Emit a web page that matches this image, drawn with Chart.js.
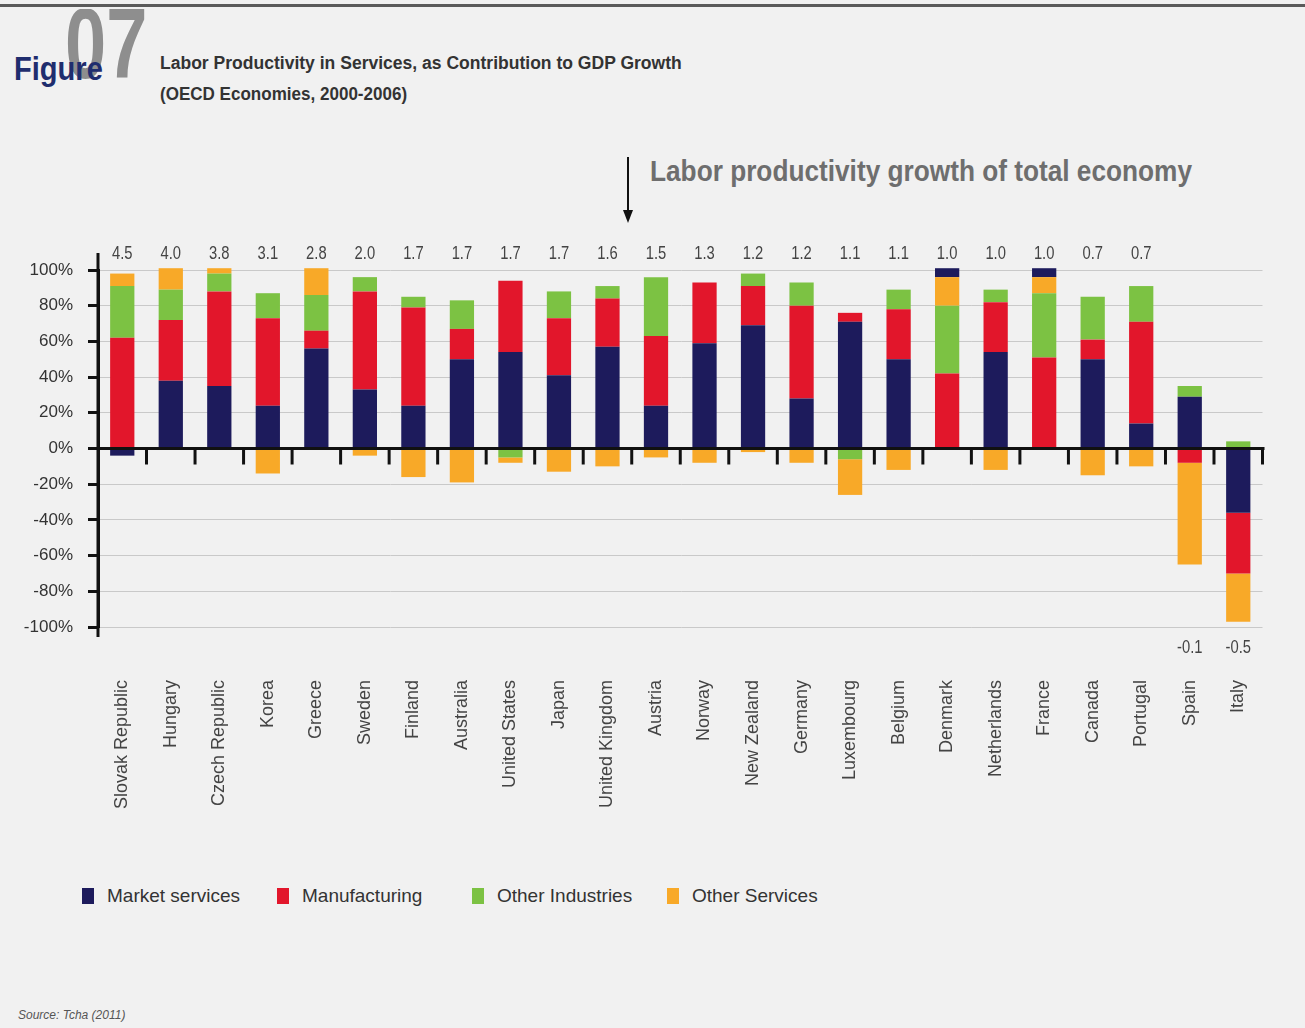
<!DOCTYPE html>
<html>
<head>
<meta charset="utf-8">
<script src="https://cdn.jsdelivr.net/npm/chart.js@4.4.1/dist/chart.umd.min.js"></script>
<style>
  body { margin: 0; background: #f0f0f0; }
  #page { position: relative; width: 1305px; height: 1028px; overflow: hidden; background: #f1f1f1; font-family: "Liberation Sans", Arial, sans-serif; }
  #topline { position: absolute; left: 0; top: 4px; width: 1305px; height: 3px; background: #5a5a5a; }
  #bignum { position: absolute; left: 62px; top: 9px; width: 100px; height: 70px; overflow: hidden; }
  #bignum span { position: absolute; left: 3px; top: -16px; font-size: 100px; font-weight: bold; color: #8e8e8e; line-height: 1; transform: scaleX(0.74); transform-origin: 0 0; }
  .fit { position: absolute; white-space: nowrap; line-height: 1; transform-origin: 0 0; }
  #figure { left: 14px; top: 52px; font-size: 33px; font-weight: bold; color: #1f2d6e; }
  #title1, #title2 { left: 160px; font-size: 18px; font-weight: bold; color: #333; }
  #title1 { top: 54px; }
  #title2 { top: 85px; }
  #note { left: 650px; top: 156px; font-size: 30px; font-weight: bold; color: #6e6e6e; }
  #arrow { position: absolute; left: 620px; top: 155px; }
  #wrap { position: absolute; left: 0; top: 240px; width: 1305px; height: 580px; }
  #legend { position: absolute; top: 885px; left: 0; width: 1305px; height: 24px; }
  .item { position: absolute; top: 0; font-size: 19px; color: #333; line-height: 22px; }
  .item i { position: absolute; left: 0; top: 3px; width: 12px; height: 16px; }
  .item span { position: absolute; left: 25px; top: 0; white-space: nowrap; }
  #source { left: 18px; top: 1009px; font-size: 12px; font-style: italic; color: #555; }
</style>
</head>
<body>
<div id="page">
  <div id="topline"></div>
  <div id="bignum"><span>07</span></div>
  <div id="figure" class="fit" data-w="89">Figure</div>
  <div id="title1" class="fit" data-w="522">Labor Productivity in Services, as Contribution to GDP Growth</div>
  <div id="title2" class="fit" data-w="247">(OECD Economies, 2000-2006)</div>
  <svg id="arrow" width="16" height="72">
    <line x1="8" y1="2" x2="8" y2="58" stroke="#111" stroke-width="2"/>
    <polygon points="3,55 13,55 8,68" fill="#111"/>
  </svg>
  <div id="note" class="fit" data-w="542">Labor productivity growth of total economy</div>
  <div id="wrap"><canvas id="myChart"></canvas></div>
  <div id="legend"></div>
  <div id="source" class="fit" data-w="107">Source: Tcha (2011)</div>
</div>
<script>
// categories
var countries = ['Slovak Republic', 'Hungary', 'Czech Republic', 'Korea', 'Greece', 'Sweden', 'Finland',
  'Australia', 'United States', 'Japan', 'United Kingdom', 'Austria', 'Norway', 'New Zealand', 'Germany',
  'Luxembourg', 'Belgium', 'Denmark', 'Netherlands', 'France', 'Canada', 'Portugal', 'Spain', 'Italy'];

// share of growth (%) per sector
var marketServices = [-4, 38, 35, 24, 56, 33, 24, 50, 54, 41, 57, 24, 59, 69, 28, 71, 50, 0, 54, 0, 50, 14, 29, -36];
var manufacturing  = [62, 34, 53, 49, 10, 55, 55, 17, 40, 32, 27, 39, 34, 22, 52, 5, 28, 42, 28, 51, 11, 57, -8, -34];
var otherIndustries = [29, 17, 10, 14, 20, 8, 6, 16, -5, 15, 7, 33, 0, 7, 13, -6, 11, 38, 7, 36, 24, 20, 6, 4];
var otherServices  = [7, 12, 3, -14, 15, -4, -16, -19, -3, -13, -10, -5, -8, -2, -8, -20, -12, 16, -12, 9, -15, -10, -57, -27];
// market services piece drawn on top of the stack (Denmark, France)
var marketServicesTop = [0, 0, 0, 0, 0, 0, 0, 0, 0, 0, 0, 0, 0, 0, 0, 0, 0, 5, 0, 5, 0, 0, 0, 0];

// labor productivity growth of total economy
var totalGrowth = [4.5, 4.0, 3.8, 3.1, 2.8, 2.0, 1.7, 1.7, 1.7, 1.7, 1.6, 1.5, 1.3, 1.2, 1.2, 1.1, 1.1, 1.0, 1.0, 1.0, 0.7, 0.7, -0.1, -0.5];

var yTicks = [100, 80, 60, 40, 20, 0, -20, -40, -60, -80, -100];

var navy = '#1d1b5c', red = '#e2162b', green = '#7cc243', orange = '#f8a928';
var sans = '"Liberation Sans", Arial, sans-serif';

// squeeze the condensed headings to their width
document.querySelectorAll('.fit').forEach(function(el) {
  var w = +el.getAttribute('data-w');
  el.style.transform = 'scaleX(' + (w / el.offsetWidth) + ')';
});

// zero line, category ticks, axis ends and growth labels
var extras = {
  id: 'extras',
  afterDatasetsDraw: function(chart) {
    var ctx = chart.ctx, x = chart.scales.x, y = chart.scales.y, area = chart.chartArea;
    var y0 = y.getPixelForValue(0);
    ctx.save();
    ctx.strokeStyle = '#111';
    ctx.lineWidth = 3;
    ctx.beginPath();
    ctx.moveTo(area.left, y0);
    ctx.lineTo(area.right + 2, y0);
    ctx.stroke();
    // ticks between categories
    var step = (area.right - area.left) / countries.length;
    for (var i = 1; i <= countries.length; i++) {
      var px = area.left + step * i;
      ctx.beginPath();
      ctx.moveTo(px, y0);
      ctx.lineTo(px, y0 + 16);
      ctx.stroke();
    }
    // axis extension
    ctx.beginPath();
    ctx.moveTo(area.left, area.top - 17);
    ctx.lineTo(area.left, area.bottom + 10);
    ctx.stroke();
    // growth labels
    ctx.fillStyle = '#444';
    ctx.font = '18px ' + sans;
    ctx.textAlign = 'center';
    ctx.textBaseline = 'middle';
    totalGrowth.forEach(function(v, i) {
      var cx = x.getPixelForValue(i);
      var ty = v >= 0 ? area.top - 16 : area.bottom + 21;
      ctx.save();
      ctx.translate(cx, ty);
      ctx.scale(0.82, 1);
      ctx.fillText(v.toFixed(1), 0, 0);
      ctx.restore();
    });
    ctx.restore();
  }
};

var common = { barPercentage: 0.5, categoryPercentage: 1.0, borderWidth: 0, clip: false };
var datasets = [
  Object.assign({ label: 'Market services', data: marketServices, backgroundColor: navy }, common),
  Object.assign({ label: 'Manufacturing', data: manufacturing, backgroundColor: red }, common),
  Object.assign({ label: 'Other Industries', data: otherIndustries, backgroundColor: green }, common),
  Object.assign({ label: 'Other Services', data: otherServices, backgroundColor: orange }, common),
  Object.assign({ label: 'Market services (top)', data: marketServicesTop, backgroundColor: navy }, common)
];

var chart = new Chart(document.getElementById('myChart'), {
  type: 'bar',
  data: { labels: countries, datasets: datasets },
  options: {
    responsive: true,
    maintainAspectRatio: false,
    animation: false,
    layout: { padding: { top: 30, right: 7, left: 0, bottom: 0 } },
    plugins: { legend: { display: false }, tooltip: { enabled: false } },
    scales: {
      x: {
        stacked: true,
        grid: { display: false },
        border: { display: false },
        ticks: {
          autoSkip: false, maxRotation: 90, minRotation: 90, padding: 45,
          color: '#444', font: { family: sans, size: 18 }
        },
        afterFit: function(scale) { scale.height = 193; }
      },
      y: {
        stacked: true,
        min: -100, max: 100,
        afterBuildTicks: function(scale) { scale.ticks = yTicks.map(function(v) { return { value: v }; }); },
        grid: {
          color: function(c) { return c.tick && c.tick.value === 0 ? '#111' : '#c9c9c9'; },
          lineWidth: function(c) { return c.tick && c.tick.value === 0 ? 3 : 1; },
          tickColor: '#111', tickWidth: 3, tickLength: 10
        },
        border: { color: '#111', width: 3 },
        ticks: {
          padding: 15, color: '#333',
          font: { family: sans, size: 17 },
          callback: function(v) { return v + '%'; }
        },
        afterFit: function(scale) { scale.width = 98; }
      }
    }
  },
  plugins: [extras]
});

// legend from the first four datasets
var legendX = [82, 277, 472, 667];
var legend = document.getElementById('legend');
datasets.slice(0, 4).forEach(function(ds, i) {
  var el = document.createElement('div');
  el.className = 'item';
  el.style.left = legendX[i] + 'px';
  el.innerHTML = '<i style="background:' + ds.backgroundColor + '"></i><span>' + ds.label + '</span>';
  legend.appendChild(el);
});
</script>
</body>
</html>
